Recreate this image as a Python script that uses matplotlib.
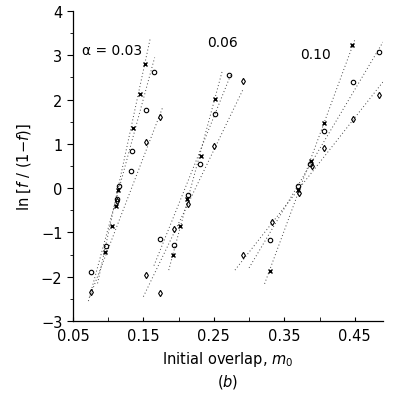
import matplotlib
matplotlib.use("Agg")
import matplotlib.pyplot as plt
from matplotlib.ticker import MultipleLocator

# --- data: ln[f/(1-f)] vs initial overlap m0 ---
# alpha = 0.03
x03_cross = [0.095, 0.105, 0.111, 0.114, 0.135, 0.145, 0.153]
y03_cross = [-1.44, -0.86, -0.40, -0.05, 1.35, 2.13, 2.80]
x03_circ = [0.076, 0.097, 0.113, 0.116, 0.133, 0.134, 0.154, 0.165]
y03_circ = [-1.89, -1.30, -0.25, 0.05, 0.39, 0.83, 1.77, 2.62]
x03_diam = [0.076, 0.112, 0.154, 0.173]
y03_diam = [-2.34, -0.30, 1.04, 1.61]

# alpha = 0.06
x06_cross = [0.192, 0.202, 0.212, 0.232, 0.252]
y06_cross = [-1.52, -0.85, -0.25, 0.72, 2.01]
x06_circ = [0.174, 0.193, 0.214, 0.231, 0.251, 0.271]
y06_circ = [-1.15, -1.28, -0.15, 0.55, 1.67, 2.55]
x06_diam = [0.154, 0.173, 0.193, 0.214, 0.250, 0.292]
y06_diam = [-1.96, -2.37, -0.92, -0.35, 0.95, 2.41]

# alpha = 0.10
x10_cross = [0.329, 0.369, 0.388, 0.406, 0.446]
y10_cross = [-1.88, -0.05, 0.62, 1.47, 3.23]
x10_circ = [0.329, 0.370, 0.387, 0.406, 0.448, 0.485]
y10_circ = [-1.16, 0.05, 0.55, 1.28, 2.40, 3.08]
x10_diam = [0.292, 0.332, 0.371, 0.389, 0.406, 0.447, 0.485]
y10_diam = [-1.52, -0.77, -0.10, 0.50, 0.90, 1.56, 2.10]

# dotted fit lines: (x0, y0, x1, y1)
fit_lines = [
    (0.085, -2.15, 0.160, 3.40), (0.072, -2.55, 0.166, 2.95), (0.074, -2.45, 0.178, 1.85),
    (0.186, -1.85, 0.262, 2.65), (0.165, -1.75, 0.275, 2.60), (0.150, -2.45, 0.292, 2.25),
    (0.322, -2.16, 0.450, 3.35), (0.300, -1.80, 0.490, 3.30), (0.280, -1.85, 0.490, 2.40),
]

group_labels = ["\u03b1 = 0.03", "0.06", "0.10"]
label_pos = [(0.063, 3.12), (0.240, 3.30), (0.373, 3.03)]

x_ticks = [0.05, 0.15, 0.25, 0.35, 0.45]

fig = plt.figure(figsize=(3.94, 4.02), dpi=100)
ax = fig.add_axes([0.185, 0.199, 0.787, 0.771])

for x0, y0, x1, y1 in fit_lines:
    ax.plot([x0, x1], [y0, y1], ls=(0, (1, 2.5)), color="#444444", lw=0.7)

for xs, ys in [(x03_cross, y03_cross), (x06_cross, y06_cross), (x10_cross, y10_cross)]:
    ax.plot(xs, ys, ls="none", marker="x", ms=3.2, mew=1.0, color="black")
for xs, ys in [(x03_circ, y03_circ), (x06_circ, y06_circ), (x10_circ, y10_circ)]:
    ax.plot(xs, ys, ls="none", marker="o", ms=3.2, mew=0.8, mfc="none", mec="black")
for xs, ys in [(x03_diam, y03_diam), (x06_diam, y06_diam), (x10_diam, y10_diam)]:
    ax.plot(xs, ys, ls="none", marker="d", ms=3.2, mew=0.8, mfc="none", mec="black")

for txt, (tx, ty) in zip(group_labels, label_pos):
    ax.text(tx, ty, txt, fontsize=10, ha="left", va="center")

ax.set_xlim(0.05, 0.49)
ax.set_ylim(-3, 4)
ax.set_xticks(x_ticks)
ax.set_xticklabels(["%.2f" % v for v in x_ticks])
ax.xaxis.set_minor_locator(MultipleLocator(0.05))
ax.yaxis.set_major_locator(MultipleLocator(1))
ax.yaxis.set_minor_locator(MultipleLocator(0.5))
ax.tick_params(axis="x", which="both", direction="in", length=3, labelsize=10.5, pad=5)
ax.tick_params(axis="y", which="major", direction="out", length=4, labelsize=10.5)
ax.tick_params(axis="y", which="minor", direction="out", length=2.5)
ax.spines["top"].set_visible(False)
ax.spines["right"].set_visible(False)
for s in ["left", "bottom"]:
    ax.spines[s].set_linewidth(0.9)

ax.set_ylabel(r"ln [$f$ / (1$-f$)]", fontsize=10.5, labelpad=6)
ax.set_xlabel("Initial overlap, $m_0$\n($b$)", fontsize=10.5, labelpad=4, linespacing=1.3)

fig.savefig("out.png", dpi=100)
